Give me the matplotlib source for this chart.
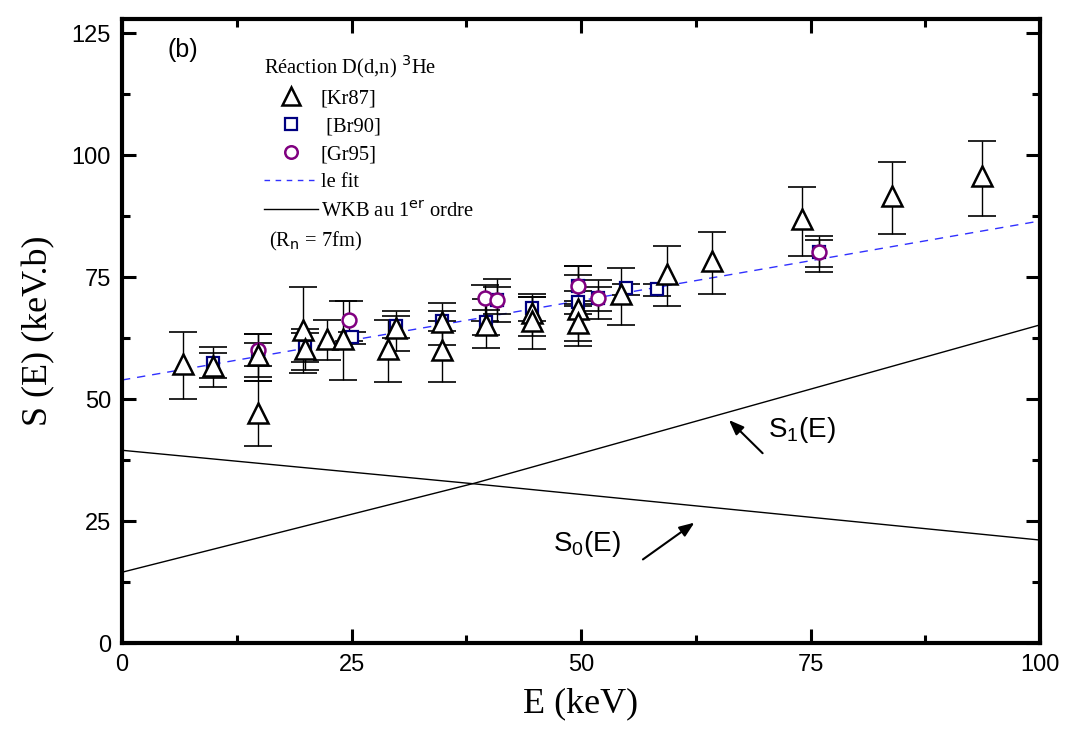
import matplotlib
matplotlib.use("Agg")
import matplotlib.pyplot as plt
from matplotlib.lines import Line2D
from matplotlib.ticker import MultipleLocator
import numpy as np

# ---------------- data ----------------
# [Kr87] triangles
kr_E = [6.6, 9.9, 14.8, 14.8, 19.7, 19.9, 22.3, 24.1, 29.0, 29.8, 34.9, 34.9,
        39.7, 44.7, 44.7, 49.7, 49.7, 54.4, 59.4, 64.3, 74.1, 83.9, 93.7]
kr_S = [57.2, 56.8, 59.0, 47.1, 64.1, 60.2, 62.3, 62.3, 60.2, 64.5, 65.8, 60.0,
        65.2, 67.6, 66.0, 68.4, 65.6, 71.6, 75.7, 78.3, 86.9, 91.6, 95.7]
kr_lo = [50.0, 52.5, 53.7, 40.4, 55.3, 55.9, 58.0, 53.9, 53.5, 59.8, 61.0, 53.5,
         60.5, 60.2, 63.0, 60.9, 62.0, 65.2, 69.0, 71.5, 79.3, 83.8, 87.5]
kr_hi = [63.7, 60.7, 63.3, 53.7, 73.0, 64.3, 66.2, 70.0, 66.2, 68.0, 69.7, 66.0,
         70.5, 71.5, 70.9, 77.3, 69.5, 76.8, 81.4, 84.2, 93.4, 98.6, 102.9]

# [Br90] squares
br_E = [9.9, 14.8, 19.9, 25.0, 29.8, 34.9, 39.7, 40.8, 44.7, 49.7, 49.7, 51.9,
        54.9, 58.3, 75.9]
br_S = [57.4, 59.2, 60.7, 62.7, 65.0, 66.0, 65.8, 70.3, 68.6, 69.9, 73.2, 70.7,
        72.7, 72.5, 80.1]
br_lo = [54.3, 56.8, 57.5, 61.3, 62.5, 64.0, 63.2, 67.5, 66.0, 67.5, 70.0, 68.0,
         71.3, 71.1, 77.0]
br_hi = [59.4, 61.5, 63.5, 63.8, 67.0, 68.0, 68.2, 73.0, 71.0, 72.2, 75.5, 73.0,
         73.6, 73.6, 82.5]

# [Gr95] circles
gr_E = [14.8, 24.7, 39.5, 40.8, 49.7, 51.9, 75.9]
gr_S = [60.0, 66.2, 70.7, 70.3, 73.2, 70.7, 80.1]
gr_lo = [54.5, 62.0, 66.0, 65.8, 69.0, 66.4, 76.0]
gr_hi = [63.3, 70.0, 73.4, 74.6, 77.3, 74.4, 83.4]

# fit and WKB curves
fit_E = [0, 100]
fit_S = [53.9, 86.5]
s1_E = [0, 38.5, 100]
s1_S = [14.5, 32.8, 65.2]
s0_E = [0, 38.5, 100]
s0_S = [39.5, 32.6, 21.1]

xticks = [0, 25, 50, 75, 100]
yticks = [0, 25, 50, 75, 100, 125]

# ---------------- figure ----------------
fig = plt.figure(figsize=(10.73, 7.40), dpi=100)
ax = fig.add_axes([122/1073, 1-643/740, (1040-122)/1073, (643-18.5)/740])

ax.plot(fit_E, fit_S, color='#3030ff', lw=1.0, ls=(0, (6, 5)), zorder=2)
ax.plot(s1_E, s1_S, color='black', lw=1.0, zorder=2)
ax.plot(s0_E, s0_S, color='black', lw=1.0, zorder=2)

def errs(S, lo, hi):
    S = np.asarray(S); return [S - np.asarray(lo), np.asarray(hi) - S]

eb_kw = dict(fmt='none', ecolor='black', elinewidth=1.0, capsize=10, capthick=1.2, zorder=3)
ax.errorbar(br_E, br_S, yerr=errs(br_S, br_lo, br_hi), **eb_kw)
ax.errorbar(gr_E, gr_S, yerr=errs(gr_S, gr_lo, gr_hi), **eb_kw)
ax.errorbar(kr_E, kr_S, yerr=errs(kr_S, kr_lo, kr_hi), **eb_kw)

ax.plot(br_E, br_S, ls='none', marker='s', ms=9, mfc='white', mec='#000080', mew=1.6, zorder=4)
ax.plot(gr_E, gr_S, ls='none', marker='o', ms=10, mfc='white', mec='#800080', mew=1.8, zorder=5)
ax.plot(kr_E, kr_S, ls='none', marker='^', ms=14, mfc='white', mec='black', mew=1.8, zorder=6)

ax.set_xlim(0, 100)
ax.set_ylim(0, 128)
ax.set_xticks(xticks)
ax.set_yticks(yticks)
ax.xaxis.set_minor_locator(MultipleLocator(12.5))
ax.yaxis.set_minor_locator(MultipleLocator(12.5))
ax.tick_params(which='both', direction='in', top=True, right=True, width=2.2,
               labelsize=17, pad=8)
ax.tick_params(which='major', length=10)
ax.tick_params(which='minor', length=6)
for lab in ax.get_xticklabels() + ax.get_yticklabels():
    lab.set_fontfamily(['Liberation Sans', 'DejaVu Sans'])
for sp in ax.spines.values():
    sp.set_linewidth(3)

ax.set_xlabel('E (keV)', fontsize=26, family=['Liberation Serif', 'DejaVu Serif'], labelpad=8)
ax.set_ylabel('S (E) (keV.b)', fontsize=26, family=['Liberation Serif', 'DejaVu Serif'], labelpad=12)

# panel label
ax.text(5.0, 121.5, '(b)', fontsize=18, family=['Liberation Sans'], va='center', ha='left')

# legend
handles = [
    Line2D([], [], ls='none', marker='^', ms=13, mfc='white', mec='black', mew=1.8),
    Line2D([], [], ls='none', marker='s', ms=9, mfc='white', mec='#000080', mew=1.6),
    Line2D([], [], ls='none', marker='o', ms=9, mfc='white', mec='#800080', mew=1.8),
    Line2D([], [], color='#3030ff', lw=1.0, ls=(0, (4, 4))),
    Line2D([], [], color='black', lw=1.0),
]
labels = ['[Kr87]', ' [Br90]', '[Gr95]', 'le fit', 'WKB au 1$^{\\mathrm{er}}$ ordre']
leg = ax.legend(handles, labels, loc='upper left', bbox_to_anchor=(0.144, 0.962),
                frameon=False, title='Réaction D(d,n) $^{\\mathrm{3}}$He',
                prop={'family': 'Liberation Serif', 'size': 14.8},
                title_fontproperties={'family': 'Liberation Serif', 'size': 14.8},
                handlelength=2.6, handletextpad=0.15, labelspacing=0.42,
                borderpad=0, alignment='left')
ax.text(16.0, 82.3, '(R$_{\\mathrm{n}}$ = 7fm)', fontsize=14.8,
        family=['Liberation Serif'], va='center', ha='left')

# curve annotations
ax.annotate('', xy=(65.9, 46.1), xytext=(70.0, 38.5),
            arrowprops=dict(arrowstyle='-|>,head_length=0.9,head_width=0.35', color='black', lw=1.5))
ax.annotate('', xy=(62.6, 25.0), xytext=(56.5, 16.8),
            arrowprops=dict(arrowstyle='-|>,head_length=0.9,head_width=0.35', color='black', lw=1.5))
ax.text(70.4, 43.6, 'S$_{\\mathregular{1}}$(E)', fontsize=20, family=['Liberation Sans'],
        va='center', ha='left')
ax.text(47.0, 20.3, 'S$_{\\mathregular{0}}$(E)', fontsize=20, family=['Liberation Sans'],
        va='center', ha='left')

fig.savefig('out.png', dpi=100)
